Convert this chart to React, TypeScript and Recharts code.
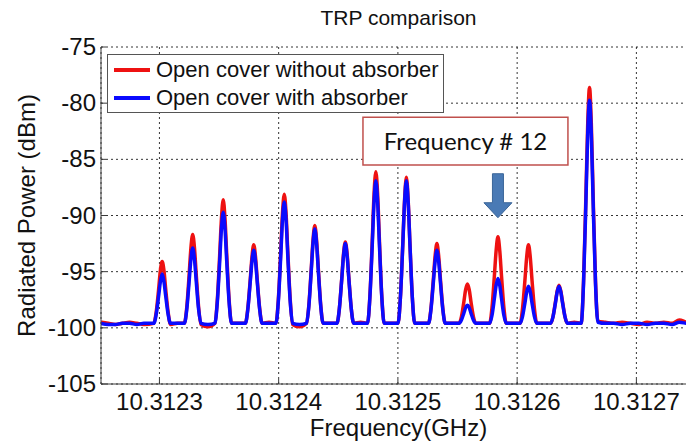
import React from "react";
import {
  LineChart,
  Line,
  XAxis,
  YAxis,
  CartesianGrid,
  ReferenceArea,
  ReferenceDot,
} from "recharts";

// x values are kHz above 10.3122 GHz
const F0_GHZ = 10.3122;
const xTicks = [100, 200, 300, 400, 500];
const yTicks = [-105, -100, -95, -90, -85, -80, -75];

const freqKHz = [
  51, 57, 63, 69, 75, 81, 87,
  95.3, 97.3, 99.3, 100.8, 102.3, 103.8, 105.3, 107.3, 109.3, 115.1,
  120.9, 122.9, 124.9, 126.4, 127.9, 129.4, 130.9, 132.9, 134.9, 140.7,
  146.5, 148.5, 150.5, 152, 153.5, 155, 156.5, 158.5, 160.5, 166.3,
  172.1, 174.1, 176.1, 177.6, 179.1, 180.6, 182.1, 184.1, 186.1, 191.9,
  197.7, 199.7, 201.7, 203.2, 204.7, 206.2, 207.7, 209.7, 211.7, 217.5,
  223.3, 225.3, 227.3, 228.8, 230.3, 231.8, 233.3, 235.3, 237.3, 243.1,
  248.9, 250.9, 252.9, 254.4, 255.9, 257.4, 258.9, 260.9, 262.9, 268.7,
  274.5, 276.5, 278.5, 280, 281.5, 283, 284.5, 286.5, 288.5, 294.3,
  300.1, 302.1, 304.1, 305.6, 307.1, 308.6, 310.1, 312.1, 314.1, 319.9,
  325.7, 327.7, 329.7, 331.2, 332.7, 334.2, 335.7, 337.7, 339.7, 345.5,
  351.3, 353.3, 355.3, 356.8, 358.3, 359.8, 361.3, 363.3, 365.3, 371.1,
  376.9, 378.9, 380.9, 382.4, 383.9, 385.4, 386.9, 388.9, 390.9, 396.7,
  402.5, 404.5, 406.5, 408, 409.5, 411, 412.5, 414.5, 416.5, 422.3,
  428.1, 430.1, 432.1, 433.6, 435.1, 436.6, 438.1, 440.1, 442.1, 447.9,
  453.7, 455.7, 457.7, 459.2, 460.7, 462.2, 463.7, 465.7, 467.7,
  474, 481, 488, 495, 502, 509, 516, 523, 530, 536, 542, 550,
];

const withoutAbsorber = [
  -99.5, -99.6, -99.7, -99.6, -99.5, -99.6, -99.7,
  -99.6, -98.6, -96.6, -94.9, -94.1, -94.9, -96.6, -98.6, -99.7, -99.6,
  -99.6, -98.2, -95.3, -92.9, -91.7, -92.9, -95.3, -98.2, -99.7, -99.9,
  -99.6, -97.6, -93.6, -90.3, -88.6, -90.3, -93.6, -97.6, -99.6, -99.6,
  -99.6, -98.3, -95.8, -93.7, -92.6, -93.7, -95.8, -98.3, -99.6, -99.5,
  -99.6, -97.5, -93.3, -89.8, -88.1, -89.8, -93.3, -97.5, -99.7, -99.9,
  -99.6, -98.0, -94.8, -92.2, -90.9, -92.2, -94.8, -98.0, -99.6, -99.6,
  -99.6, -98.3, -95.6, -93.4, -92.35, -93.4, -95.6, -98.3, -99.6, -99.5,
  -99.6, -97.2, -92.2, -88.1, -86.1, -88.1, -92.2, -97.2, -99.6, -99.6,
  -99.6, -97.3, -92.5, -88.6, -86.6, -88.6, -92.5, -97.3, -99.6, -99.6,
  -99.6, -98.3, -95.7, -93.6, -92.5, -93.6, -95.7, -98.3, -99.6, -99.6,
  -99.6, -99.0, -97.7, -96.6, -96.1, -96.6, -97.7, -99.0, -99.6, -99.6,
  -99.6, -98.2, -95.4, -93.1, -91.9, -93.1, -95.4, -98.2, -99.6, -99.6,
  -99.6, -98.3, -95.8, -93.7, -92.6, -93.7, -95.8, -98.3, -99.6, -99.6,
  -99.6, -99.0, -97.7, -96.7, -96.2, -96.7, -97.7, -99.0, -99.6, -99.5,
  -99.6, -95.8, -88.1, -81.8, -78.6, -81.8, -88.1, -95.8, -99.4,
  -99.5, -99.6, -99.5, -99.6, -99.7, -99.5, -99.6, -99.5, -99.6, -99.3, -99.5, -99.6,
];

const withAbsorber = [
  -99.6, -99.7, -99.7, -99.6, -99.6, -99.7, -99.6,
  -99.6, -98.8, -97.2, -95.9, -95.2, -95.9, -97.2, -98.8, -99.6, -99.6,
  -99.6, -98.4, -95.9, -93.9, -92.9, -93.9, -95.9, -98.4, -99.6, -99.7,
  -99.6, -97.8, -94.2, -91.2, -89.7, -91.2, -94.2, -97.8, -99.6, -99.6,
  -99.6, -98.4, -96.0, -94.1, -93.1, -94.1, -96.0, -98.4, -99.6, -99.6,
  -99.6, -97.7, -93.7, -90.4, -88.8, -90.4, -93.7, -97.7, -99.6, -99.7,
  -99.6, -98.1, -95.0, -92.5, -91.2, -92.5, -95.0, -98.1, -99.6, -99.6,
  -99.6, -98.3, -95.7, -93.6, -92.5, -93.6, -95.7, -98.3, -99.6, -99.6,
  -99.6, -97.3, -92.6, -88.8, -86.9, -88.8, -92.6, -97.3, -99.6, -99.6,
  -99.6, -97.3, -92.6, -88.8, -86.9, -88.8, -92.6, -97.3, -99.6, -99.6,
  -99.6, -98.4, -96.0, -94.1, -93.1, -94.1, -96.0, -98.4, -99.6, -99.6,
  -99.6, -99.3, -98.7, -98.2, -98.0, -98.2, -98.7, -99.3, -99.6, -99.6,
  -99.6, -98.9, -97.4, -96.2, -95.6, -96.2, -97.4, -98.9, -99.6, -99.6,
  -99.6, -99.0, -97.8, -96.8, -96.3, -96.8, -97.8, -99.0, -99.6, -99.6,
  -99.6, -99.0, -97.8, -96.8, -96.3, -96.8, -97.8, -99.0, -99.6, -99.6,
  -99.6, -96.0, -88.7, -82.7, -79.75, -82.7, -88.7, -96.0, -99.5,
  -99.6, -99.6, -99.7, -99.6, -99.6, -99.7, -99.6, -99.6, -99.7, -99.5, -99.6, -99.7,
];

const seriesNames = ["Open cover without absorber", "Open cover with absorber"];

// frequency #12 marker
const markerKHz = 383.9;

const FONT = '"Liberation Sans", Arial, sans-serif';
const AXIS = "#3a3a3a";
const RED = "#ee1111";
const BLUE = "#0a0aff";

const data = freqKHz.map((f, i) => ({
  f,
  red: withoutAbsorber[i],
  blue: withAbsorber[i],
}));

const XTick = (props: any) => {
  const { x, y, payload } = props;
  return (
    <g>
      <line x1={x} y1={y} x2={x} y2={y - 5} stroke={AXIS} />
      <text x={x} y={y + 26} textAnchor="middle" fontSize={24} fontFamily={FONT} fill="#111">
        {(F0_GHZ + payload.value / 1e6).toFixed(4)}
      </text>
    </g>
  );
};

const TopTick = (props: any) => {
  const { x, y } = props;
  return <line x1={x} y1={y} x2={x} y2={y + 5} stroke={AXIS} />;
};

const YTick = (props: any) => {
  const { x, y, payload } = props;
  return (
    <g>
      <line x1={x} y1={y} x2={x + 5} y2={y} stroke={AXIS} />
      <text x={x - 5} y={y + 8} textAnchor="end" fontSize={24} fontFamily={FONT} fill="#111">
        {payload.value}
      </text>
    </g>
  );
};

const LegendBox = () => (
  <div
    style={{
      position: "absolute",
      left: 107,
      top: 54,
      width: 337,
      height: 59,
      border: "1px solid #555",
      boxSizing: "border-box",
      background: "#fff",
      fontFamily: FONT,
      fontSize: 22,
      color: "#111",
    }}
  >
    {[RED, BLUE].map((color, i) => (
      <div
        key={color}
        style={{
          position: "absolute",
          left: 6,
          top: 1 + i * 28,
          height: 28,
          display: "flex",
          alignItems: "center",
          whiteSpace: "nowrap",
        }}
      >
        <span style={{ width: 36, height: 3.5, background: color, marginRight: 6 }} />
        {seriesNames[i]}
      </div>
    ))}
  </div>
);

const Arrow = (props: any) => {
  const { cx, cy } = props;
  const pts = [
    [cx - 5.5, cy - 44],
    [cx + 5.5, cy - 44],
    [cx + 5.5, cy - 15],
    [cx + 14, cy - 15],
    [cx, cy],
    [cx - 14, cy - 15],
    [cx - 5.5, cy - 15],
  ]
    .map((p) => p.join(","))
    .join(" ");
  return <polygon points={pts} fill="#4a7ab5" stroke="#3b6598" strokeWidth={1} />;
};

export default function App() {
  return (
    <div
      style={{
        position: "absolute",
        left: 0,
        top: 0,
        width: 686,
        height: 442,
        overflow: "hidden",
        background: "#fff",
      }}
    >
      <div
        style={{
          position: "absolute",
          left: 101,
          width: 595,
          top: 7,
          lineHeight: "22px",
          textAlign: "center",
          fontFamily: FONT,
          fontSize: 21,
          color: "#111",
        }}
      >
        TRP comparison
      </div>
      <LineChart
        width={700}
        height={442}
        data={data}
        margin={{ top: 47, right: 4, bottom: 0, left: 0 }}
      >
        <CartesianGrid stroke="#000" strokeDasharray="2 3" strokeWidth={0.8} />
        <XAxis
          dataKey="f"
          type="number"
          domain={[51, 550]}
          ticks={xTicks}
          allowDataOverflow
          height={58}
          tickSize={0}
          tickMargin={0}
          stroke={AXIS}
          tick={(p: any) => <XTick {...p} />}
          label={{
            value: "Frequency(GHz)",
            position: "insideBottom",
            offset: 6,
            fontSize: 24,
            fontFamily: FONT,
            fill: "#111",
          }}
        />
        <XAxis
          xAxisId="top"
          orientation="top"
          type="number"
          domain={[51, 550]}
          ticks={xTicks}
          height={0}
          tickSize={0}
          tickMargin={0}
          stroke={AXIS}
          tick={(p: any) => <TopTick {...p} />}
        />
        <YAxis
          type="number"
          domain={[-105, -75]}
          ticks={yTicks}
          width={101}
          tickSize={0}
          tickMargin={0}
          stroke={AXIS}
          tick={(p: any) => <YTick {...p} />}
          label={{
            content: (p: any) => {
              const vb = p.viewBox || {};
              const cy = (vb.y ?? 47) + (vb.height ?? 337) / 2;
              return (
                <text
                  x={35}
                  y={cy}
                  transform={`rotate(-90 35 ${cy})`}
                  textAnchor="middle"
                  fontSize={24}
                  fontFamily={FONT}
                  fill="#111"
                >
                  Radiated Power (dBm)
                </text>
              );
            },
          }}
        />
        <Line
          type="monotone"
          dataKey="red"
          stroke={RED}
          strokeWidth={3.5}
          dot={false}
          activeDot={false}
          isAnimationActive={false}
        />
        <Line
          type="monotone"
          dataKey="blue"
          stroke={BLUE}
          strokeWidth={3.5}
          dot={false}
          activeDot={false}
          isAnimationActive={false}
        />
        <ReferenceArea
          x1={270.7}
          x2={442.6}
          y1={-85.5}
          y2={-81.25}
          fill="#fff"
          fillOpacity={1}
          stroke="#c0504d"
          strokeWidth={1.5}
          ifOverflow="visible"
          label={{
            value: "Frequency # 12",
            position: "center",
            fontSize: 24,
            fontFamily: "Lato, sans-serif",
            fill: "#111",
          }}
        />
        <ReferenceDot
          x={markerKHz}
          y={-90.2}
          ifOverflow="visible"
          shape={(p: any) => <Arrow {...p} />}
        />
      </LineChart>
      <LegendBox />
    </div>
  );
}
